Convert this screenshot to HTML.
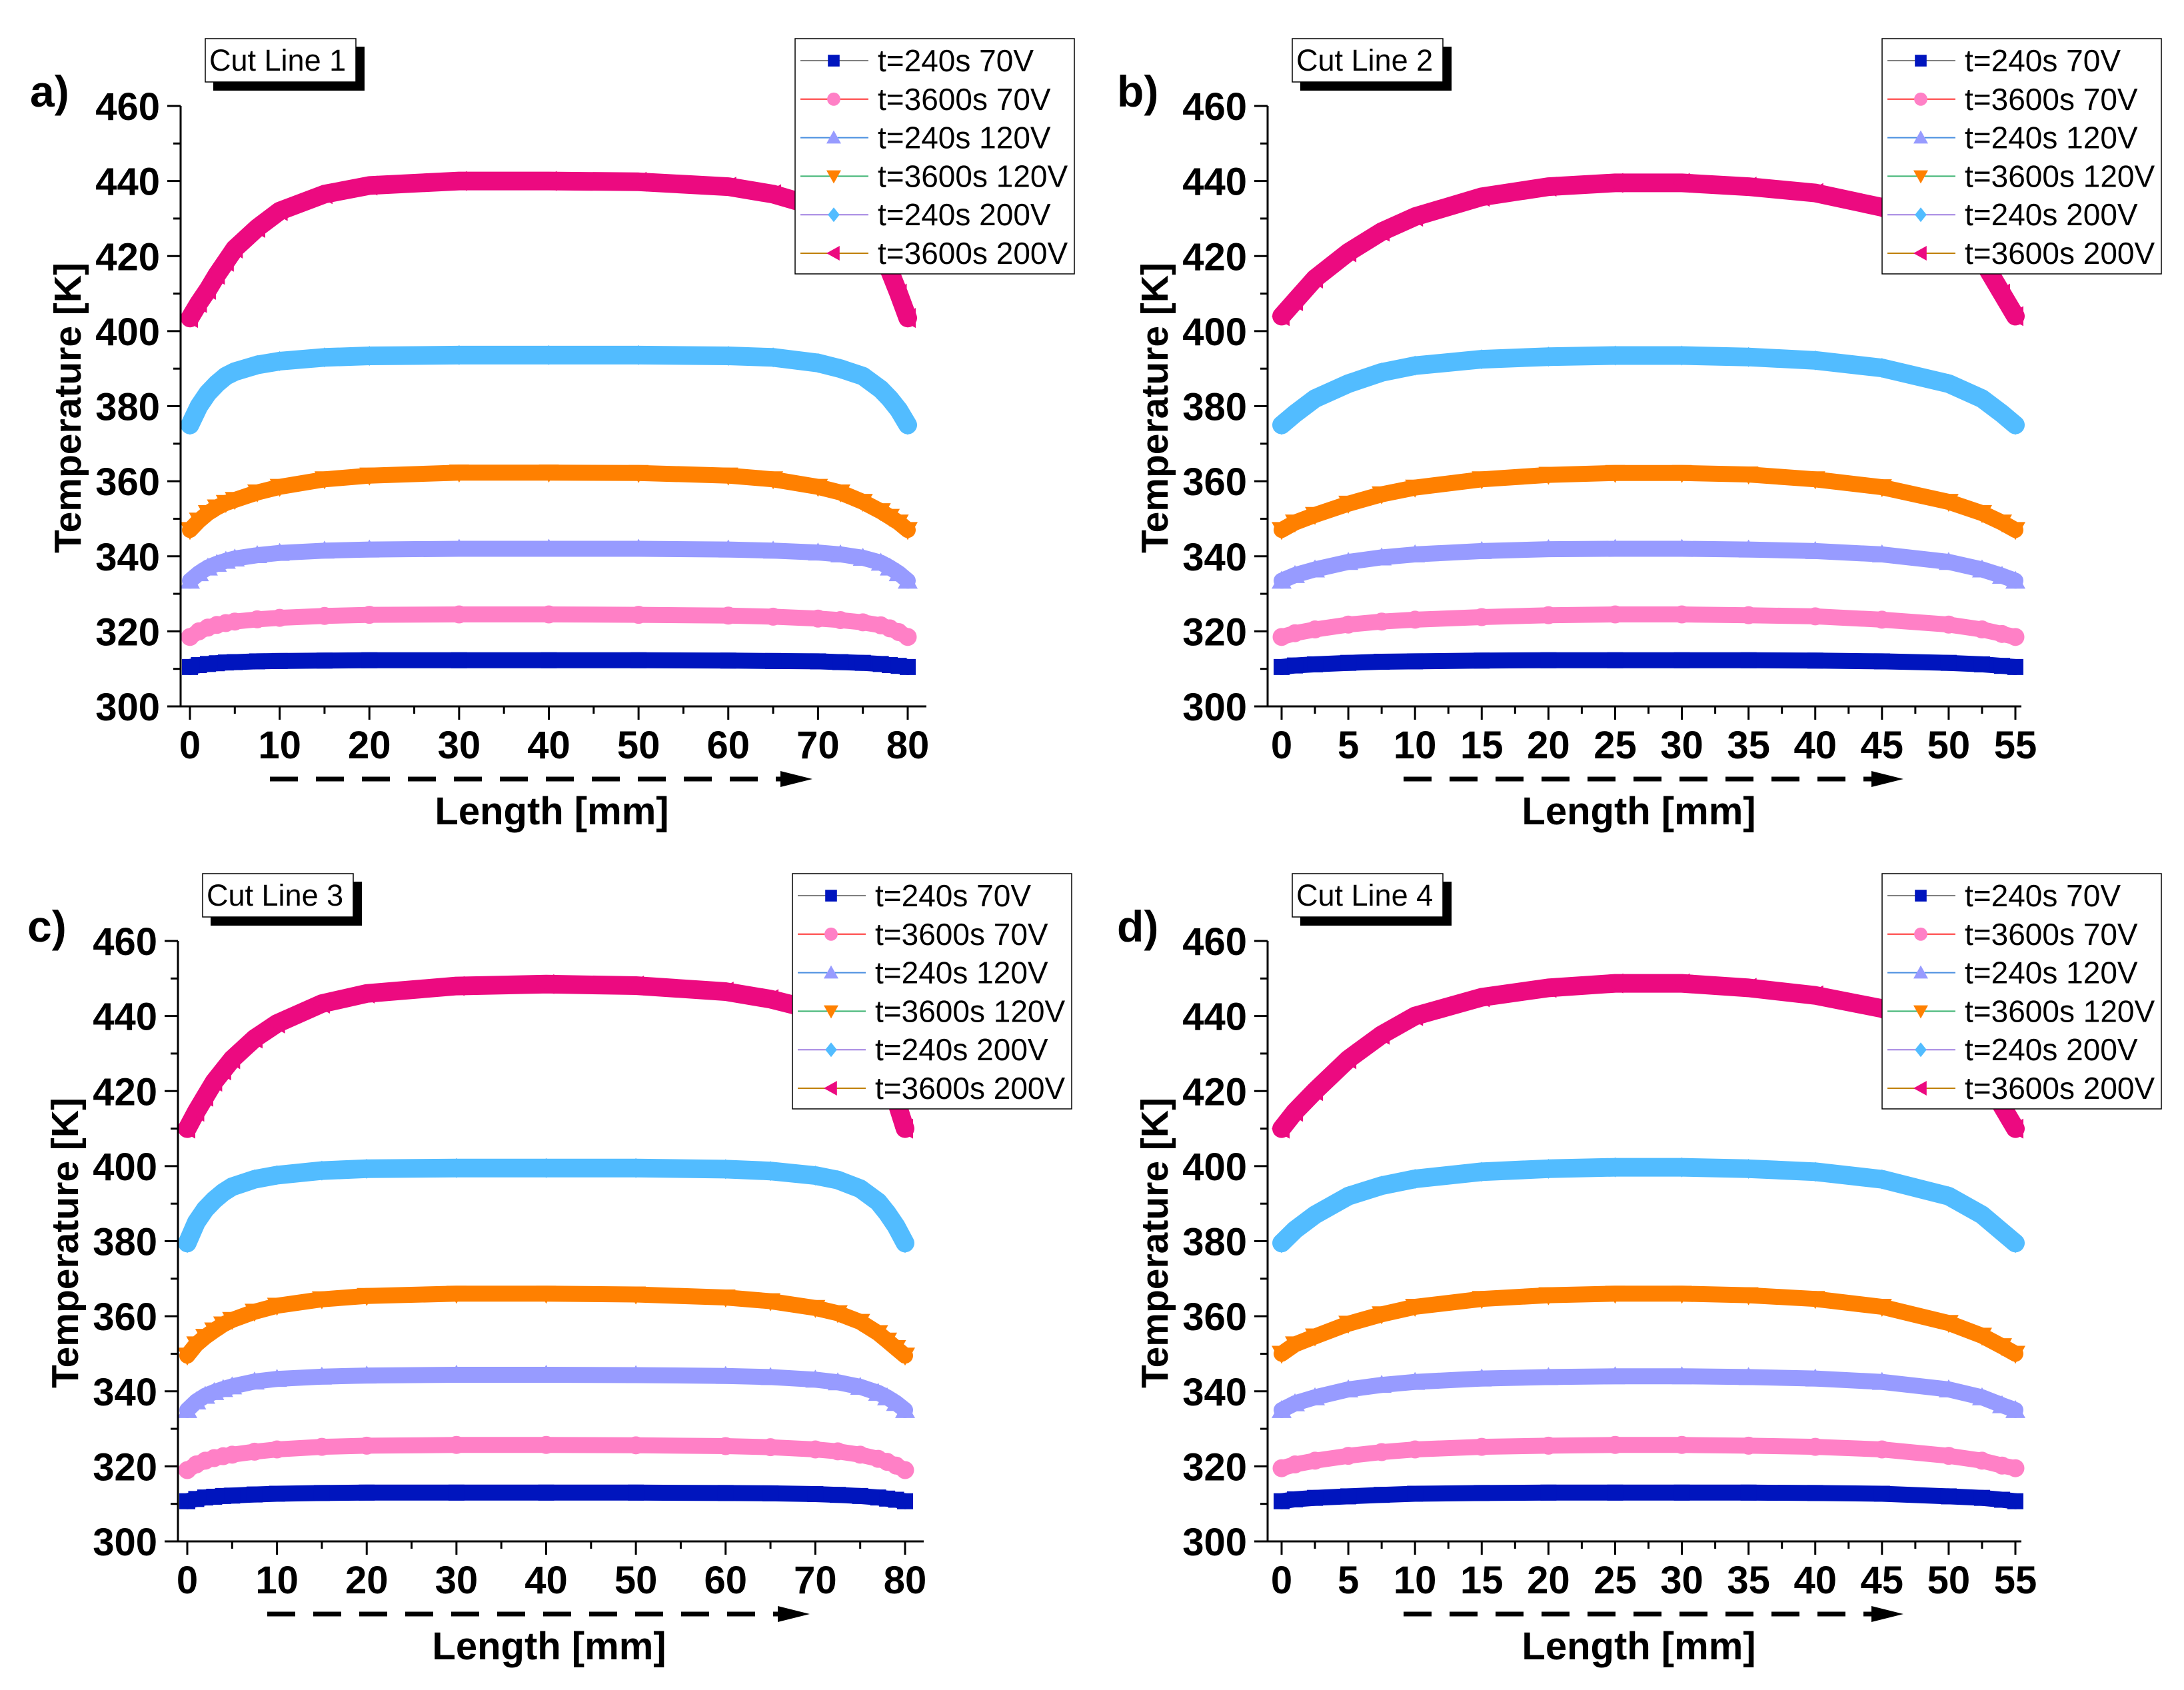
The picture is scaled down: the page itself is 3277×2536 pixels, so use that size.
<!DOCTYPE html>
<html><head><meta charset="utf-8"><style>
html,body{margin:0;padding:0;background:#fff;}
svg{display:block;font-family:"Liberation Sans",Arial,sans-serif;}
</style></head><body>
<svg id="chart" width="3277" height="2536" viewBox="0 0 3277 2536" xmlns="http://www.w3.org/2000/svg">
<rect width="3277" height="2536" fill="#fff"/>
</svg>
<script>
// ---- data ----
const seriesLabels = ["t=240s 70V","t=3600s 70V","t=240s 120V","t=3600s 120V","t=240s 200V","t=3600s 200V"];
const panelLetters = ["a)","b)","c)","d)"];
const cutLabels = ["Cut Line 1","Cut Line 2","Cut Line 3","Cut Line 4"];
const yTicks = [300,320,340,360,380,400,420,440,460];
const xTicks80 = [0,10,20,30,40,50,60,70,80];
const xTicks55 = [0,5,10,15,20,25,30,35,40,45,50,55];

// panel a (80 mm)
const xA = [0,1,2,3,4,5,7.5,10,15,20,30,40,50,60,65,70,72.5,75,77,78,79,80];
const aBlue   = [310.5,311,311.3,311.5,311.7,311.8,312,312.1,312.2,312.3,312.3,312.3,312.3,312.2,312.1,312,311.8,311.6,311.3,311,310.8,310.5];
const aPink   = [318.5,320,321,321.7,322.2,322.6,323.2,323.6,324.1,324.4,324.5,324.5,324.4,324.2,323.9,323.4,323,322.4,321.6,320.8,319.8,318.5];
const aLav    = [333.5,335.5,337,338,338.8,339.4,340.3,340.9,341.5,341.8,342,342,342,341.8,341.5,341,340.5,339.6,338.3,337,335.5,333.5];
const aOrange = [347,349.5,351.5,353,354.2,355,357,358.5,360.5,361.5,362.3,362.3,362.2,361.5,360.5,358.5,357,354.5,352,350.5,349,347];
const aCyan   = [375,380,383.5,386,388,389.2,391,392,393,393.4,393.6,393.6,393.6,393.4,393,391.5,390,388,384.5,382,379,375];
const aMag    = [403.5,407.5,411,415,418.5,422,427.5,432,436.5,438.8,440,440,439.8,438.5,436.5,433,430.5,426,420,416,410,403.5];

// panel b (55 mm)
const xB = [0,1,2.5,5,7.5,10,15,20,25,30,35,40,45,50,52.5,54,55];
const bBlue   = [310.5,310.9,311.2,311.6,311.9,312,312.2,312.3,312.3,312.3,312.3,312.2,312,311.6,311.2,310.8,310.5];
const bPink   = [318.5,319.5,320.5,321.8,322.6,323.1,323.8,324.3,324.5,324.5,324.3,324,323.1,321.8,320.5,319.3,318.5];
const bLav    = [333.5,335,336.5,338.5,339.7,340.5,341.4,341.9,342,342,341.8,341.4,340.5,338.5,336.5,334.8,333.5];
const bOrange = [347,349,351,354,356.5,358.3,360.5,361.7,362.2,362.2,361.8,360.5,358.4,354.5,351.5,349,347];
const bCyan   = [375,378,382,386,389,390.8,392.5,393.2,393.5,393.5,393.1,392.2,390.2,386,382,378,375];
const bMag    = [404,408,414,421,426.5,430.5,435.8,438.5,439.5,439.5,438.5,436.8,433,426,419,410,404];

// panel c (80 mm)
const xC = [0,1,2,3,4,5,7.5,10,15,20,30,40,50,60,65,70,72.5,75,77,78,79,80];
const cBlue   = [310.7,311.3,311.7,311.9,312.1,312.2,312.5,312.7,312.9,313,313,313,313,312.9,312.8,312.6,312.4,312.1,311.7,311.4,311.1,310.7];
const cPink   = [319,320.5,321.5,322.2,322.7,323.1,323.9,324.5,325.2,325.5,325.7,325.7,325.6,325.4,325.1,324.5,324,323.1,322,321.2,320.2,319];
const cLav    = [335,337.3,338.8,339.8,340.6,341.3,342.6,343.3,343.9,344.2,344.4,344.4,344.3,344.1,343.8,343.1,342.4,341.2,339.6,338.4,336.9,335];
const cOrange = [349.5,352.5,354.5,356.2,357.8,359,361.2,362.8,364.5,365.4,366,366,365.8,365,364,362.2,360.8,358.5,355.5,353.5,351.5,349.5];
const cCyan   = [379.5,385,388.5,391,393,394.5,396.5,397.6,398.8,399.3,399.5,399.5,399.5,399.2,398.7,397.5,396.3,394,390.5,387.5,384,379.5];
const cMag    = [410,414.5,418.5,422.5,425.5,428.5,434,438,443.3,446,448,448.5,448.1,446.5,444.5,441.5,439,435,428.5,423.5,417.5,410];

// panel d (55 mm)
const xD = [0,1,2.5,5,7.5,10,15,20,25,30,35,40,45,50,52.5,54,55];
const dBlue   = [310.7,311.2,311.6,312,312.4,312.7,312.9,313,313,313,313,312.9,312.7,312,311.6,311.1,310.7];
const dPink   = [319.5,320.5,321.5,322.8,323.8,324.5,325.2,325.5,325.7,325.7,325.5,325.2,324.5,322.8,321.5,320.2,319.5];
const dLav    = [335,336.8,338.4,340.5,341.7,342.5,343.4,343.8,344,344,343.8,343.4,342.5,340.5,338.4,336.3,335];
const dOrange = [350,352.5,354.6,358,360.5,362.5,364.6,365.6,366,366,365.6,364.6,362.5,358.2,354.8,352,350];
const dCyan   = [379.5,383,387,392,394.8,396.6,398.5,399.3,399.7,399.7,399.3,398.5,396.5,392,387,382.5,379.5];
const dMag    = [410,414.5,420,428.5,435,440,445,447.5,448.7,448.7,447.5,445.5,442,435,426,416,410];

const seriesColors = ["#0015BE","#FF80C6","#979BFF","#FF8000","#52BCFF","#EC0A80"];
const legendLineColors = ["#7f7f7f","#ff3030","#4a8fe0","#3cb371","#a080e0","#c08000"];
const markers = ["square","circle","up","down","diamond","left"];

const panels = [
  {ox:0, oy:0, xmax:80, ticks:xTicks80, minorStep:5, xs:xA, ys:[aBlue,aPink,aLav,aOrange,aCyan,aMag]},
  {ox:1631, oy:0, xmax:55, ticks:xTicks55, minorStep:2.5, xs:xB, ys:[bBlue,bPink,bLav,bOrange,bCyan,bMag]},
  {ox:-4, oy:1253, xmax:80, ticks:xTicks80, minorStep:5, xs:xC, ys:[cBlue,cPink,cLav,cOrange,cCyan,cMag]},
  {ox:1631, oy:1253, xmax:55, ticks:xTicks55, minorStep:2.5, xs:xD, ys:[dBlue,dPink,dLav,dOrange,dCyan,dMag]}
];

const NS = "http://www.w3.org/2000/svg";
const root = document.getElementById("chart");
function mk(tag, attrs, parent){
  const e = document.createElementNS(NS, tag);
  for (const k in attrs) e.setAttribute(k, attrs[k]);
  (parent||root).appendChild(e);
  return e;
}
function markerEl(type, cx, cy, s, color, parent){
  let e;
  const h = s/2;
  if (type==="square") e = mk("rect",{x:cx-h*0.8,y:cy-h*0.8,width:s*0.8,height:s*0.8,fill:color},parent);
  else if (type==="circle") e = mk("circle",{cx:cx,cy:cy,r:h*0.9,fill:color},parent);
  else if (type==="up") e = mk("polygon",{points:`${cx},${cy-h} ${cx+h},${cy+h*0.8} ${cx-h},${cy+h*0.8}`,fill:color},parent);
  else if (type==="down") e = mk("polygon",{points:`${cx},${cy+h} ${cx+h},${cy-h*0.8} ${cx-h},${cy-h*0.8}`,fill:color},parent);
  else if (type==="diamond") e = mk("polygon",{points:`${cx},${cy-h} ${cx+h*0.8},${cy} ${cx},${cy+h} ${cx-h*0.8},${cy}`,fill:color},parent);
  else e = mk("polygon",{points:`${cx-h},${cy} ${cx+h*0.8},${cy-h} ${cx+h*0.8},${cy+h}`,fill:color},parent);
  return e;
}

panels.forEach((p, pi) => {
  const g = mk("g",{transform:`translate(${p.ox},${p.oy})`});
  
  
  const is55 = p.xmax === 55;
  const axX = 271, yTop = 159, yBot = 1060;
  const x0 = is55 ? 292 : 285;
  const x1 = is55 ? 1393 : 1362;
  const axRight = is55 ? 1402 : 1390;
  const sx = v => x0 + (v / p.xmax) * (x1 - x0);
  const sy = v => yBot - (v - 300) / 160 * (yBot - yTop);

  // series
  p.ys.forEach((vals, si) => {
    const sg = mk("g",{},g);
    
    
    const d = vals.map((v,i)=>(i?"L":"M")+sx(p.xs[i]).toFixed(1)+","+sy(v).toFixed(1)).join(" ");
    const path = mk("path",{d:d,fill:"none",stroke:seriesColors[si],"stroke-width":si>=4?28:24,"stroke-linejoin":"round","stroke-linecap":"round"},sg);
    
    
    vals.forEach((v,i)=>{
      const m = markerEl(markers[si], sx(p.xs[i]), sy(v), 30, seriesColors[si], sg);
      
      
    });
  });

  // axes
  const ax = mk("path",{d:`M${axX},${yTop} V${yBot} H${axRight}`,fill:"none",stroke:"#000","stroke-width":3},g);
  
  
  for (let v=300; v<=460; v+=10){
    const major = v%20===0;
    const t = mk("line",{x1:axX-(major?20:11),x2:axX,y1:sy(v),y2:sy(v),stroke:"#000","stroke-width":3},g);
    
    
  }
  yTicks.forEach(v=>{
    const t = mk("text",{x:240,y:sy(v)+21,"text-anchor":"end","font-size":58,"font-weight":"bold"},g);
    t.textContent = v;
    
    
  });
  for (let v=0; v<=p.xmax+1e-6; v+=p.minorStep){
    const major = p.ticks.some(tv=>Math.abs(tv-v)<1e-6);
    const t = mk("line",{x1:sx(v),x2:sx(v),y1:yBot,y2:yBot+(major?20:11),stroke:"#000","stroke-width":3},g);
    
    
  }
  p.ticks.forEach(v=>{
    const t = mk("text",{x:sx(v),y:1138,"text-anchor":"middle","font-size":58,"font-weight":"bold"},g);
    t.textContent = v;
    
    
  });

  const yt = mk("text",{transform:"translate(121,612) rotate(-90)","text-anchor":"middle","font-size":57,"font-weight":"bold"},g);
  yt.textContent = "Temperature [K]";
  
  
  const xt = mk("text",{x:828,y:1237,"text-anchor":"middle","font-size":58,"font-weight":"bold"},g);
  xt.textContent = "Length [mm]";
  
  

  // dashed arrow
  const arr = mk("g",{},g);
  
  
  const arrEnd = is55 ? 1225 : 1219;
  const arrStart = is55 ? 475 : 405;
  mk("line",{x1:arrStart,x2:arrEnd-40,y1:1169,y2:1169,stroke:"#000","stroke-width":7,"stroke-dasharray":"42 27"},arr);
  mk("polygon",{points:`${arrEnd},1169 ${arrEnd-48},1157 ${arrEnd-48},1181`,fill:"#000"},arr);

  // panel letter
  const pl = mk("text",{x:45,y:160,"font-size":66,"font-weight":"bold"},g);
  pl.textContent = panelLetters[pi];
  
  

  // cut line box
  const cb = mk("g",{},g);
  
  
  mk("rect",{x:320,y:70,width:227,height:66,fill:"#000"},cb);
  mk("rect",{x:308,y:58,width:226,height:65,fill:"#fff",stroke:"#000","stroke-width":1.5},cb);
  const ct = mk("text",{x:314,y:106,"font-size":45},cb);
  ct.textContent = cutLabels[pi];

  // legend
  const lg = mk("g",{},g);
  
  
  mk("rect",{x:1193,y:58,width:419,height:353,fill:"#fff",stroke:"#000","stroke-width":1.5},lg);
  seriesLabels.forEach((lab, si)=>{
    const ey = 91 + si*57.8;
    const eg = mk("g",{},lg);
    
    
    mk("line",{x1:1201,x2:1303,y1:ey,y2:ey,stroke:legendLineColors[si],"stroke-width":2},eg);
    markerEl(markers[si], 1251, ey, 22, seriesColors[si], eg);
    const lt = mk("text",{x:1317,y:ey+16,"font-size":46},eg);
    lt.textContent = lab;
  });
});
</script>
</body></html>
